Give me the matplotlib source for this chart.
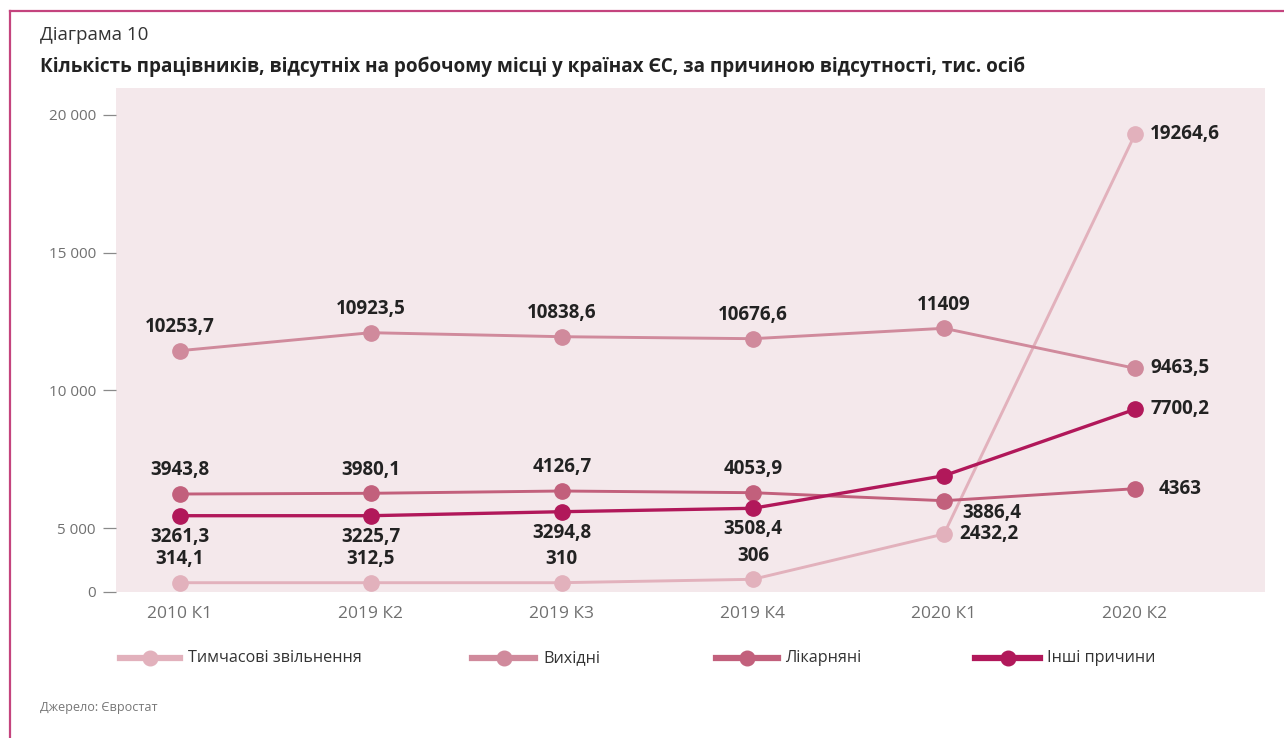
import numpy as np
import matplotlib
matplotlib.use("Agg")
import matplotlib.pyplot as plt
from matplotlib.lines import Line2D

plt.rcParams['font.family'] = ['Open Sans', 'DejaVu Sans']

# ---- data ----
categories = ["2010 К1", "2019 К2", "2019 К3", "2019 К4", "2020 К1", "2020 К2"]
series_names = ["Тимчасові звільнення", "Вихідні", "Лікарняні", "Інші причини"]

# plotted positions (axis units)
tymch_vals = [710, 710, 710, 978, 4550, 19300]
vykh_vals = [11444, 12097, 11952, 11880, 12257, 10806]
likar_vals = [6244, 6270, 6353, 6292, 6001, 6437]
inshi_vals = [5457, 5457, 5602, 5726, 6908, 9318]

# printed data labels
tymch_labels = ["314,1", "312,5", "310", "306", "2432,2", "19264,6"]
vykh_labels = ["10253,7", "10923,5", "10838,6", "10676,6", "11409", "9463,5"]
likar_labels = ["3943,8", "3980,1", "4126,7", "4053,9", "3886,4", "4363"]
inshi_labels = ["3261,3", "3225,7", "3294,8", "3508,4", None, "7700,2"]

y_ticks = [0, 5000, 10000, 15000, 20000]
y_tick_labels = ["0", "5 000", "10 000", "15 000", "20 000"]

# ---- style ----
colors = ["#e2b1bc", "#d08a9c", "#c2607c", "#b1185a"]
widths = [2.1, 2.1, 2.1, 2.4]
place_t = ["above", "above", "above", "above", "right", "right"]
place_v = ["above", "above", "above", "above", "above", "right"]
place_l = ["above", "above", "above", "above", "belowright", "right2"]
place_i = ["below", "below", "below", "below", None, "right"]

W, H = 1284, 738
fig = plt.figure(figsize=(W / 100, H / 100), dpi=100)
ax = fig.add_axes([116 / W, 1 - 591.7 / H, (1265 - 116) / W, (591.7 - 88) / H])
ax.set_facecolor("#f4e8eb")
for s in ax.spines.values():
    s.set_visible(False)

LOW_PX, HIGH_PX = 63.4, 137.8


def fwd(v):
    v = np.asarray(v, dtype=float)
    return np.where(v <= 5000, v * LOW_PX / 5000, LOW_PX + (v - 5000) * HIGH_PX / 5000)


def inv(p):
    p = np.asarray(p, dtype=float)
    return np.where(p <= LOW_PX, p * 5000 / LOW_PX, 5000 + (p - LOW_PX) * 5000 / HIGH_PX)


ax.set_yscale("function", functions=(fwd, inv))
ax.set_ylim(0, 20976)
x = np.arange(len(categories))
ax.set_xlim(-0.333, 5.68)

all_vals = [tymch_vals, vykh_vals, likar_vals, inshi_vals]
all_labels = [tymch_labels, vykh_labels, likar_labels, inshi_labels]
all_place = [place_t, place_v, place_l, place_i]

for vals, col, lw in zip(all_vals, colors, widths):
    ax.plot(x, vals, color=col, lw=lw, marker="o", ms=11, zorder=3,
            solid_capstyle="round")

lab_kw = dict(fontsize=13.5, fontweight="bold", color="#222222", zorder=5)
for vals, labs, places in zip(all_vals, all_labels, all_place):
    for xi, v, lab, pl in zip(x, vals, labs, places):
        if lab is None:
            continue
        if pl == "above":
            ax.annotate(lab, (xi, v), xytext=(0, 17), textcoords="offset points",
                        ha="center", va="center", **lab_kw)
        elif pl == "below":
            ax.annotate(lab, (xi, v), xytext=(0, -15), textcoords="offset points",
                        ha="center", va="center", **lab_kw)
        elif pl == "right":
            ax.annotate(lab, (xi, v), xytext=(11, 0), textcoords="offset points",
                        ha="left", va="center", **lab_kw)
        elif pl == "right2":
            ax.annotate(lab, (xi, v), xytext=(17, 0), textcoords="offset points",
                        ha="left", va="center", **lab_kw)
        elif pl == "belowright":
            ax.annotate(lab, (xi, v), xytext=(13, -9), textcoords="offset points",
                        ha="left", va="center", **lab_kw)

ax.set_yticks(y_ticks)
ax.set_yticklabels(y_tick_labels)
ax.set_xticks(x)
ax.set_xticklabels(categories)
ax.tick_params(axis="y", length=9.5, width=0.9, color="#8a8a8a", pad=5,
               labelsize=11, labelcolor="#707070")
ax.tick_params(axis="x", length=0, pad=10, labelsize=12.5, labelcolor="#707070")
ax.yaxis.set_minor_locator(matplotlib.ticker.NullLocator())

# frame lines (top and left)
fig.add_artist(Line2D([10 / W, 1.0], [1 - 11 / H, 1 - 11 / H], transform=fig.transFigure,
                      color="#c4447e", lw=1.6))
fig.add_artist(Line2D([10 / W, 10 / W], [0, 1 - 11 / H], transform=fig.transFigure,
                      color="#c4447e", lw=1.6))

fig.text(40 / W, 1 - 35 / H, "Діаграма 10", fontsize=13.5, color="#333333",
         ha="left", va="center")
fig.text(40 / W, 1 - 67 / H,
         "Кількість працівників, відсутніх на робочому місці у країнах ЄС, за причиною відсутності, тис. осіб",
         fontsize=13.6, fontweight="bold", color="#222222", ha="left", va="center")
fig.text(40 / W, 1 - 708 / H, "Джерело: Євростат", fontsize=9.1, color="#777777",
         ha="left", va="center")

# legend
leg_y = 1 - 658 / H
leg_items = [(120, 180, 188), (472, 535, 543), (716, 778, 785), (975, 1040, 1047)]
for (x0, x1, xt), name, col in zip(leg_items, series_names, colors):
    fig.add_artist(Line2D([x0 / W, x1 / W], [leg_y, leg_y], transform=fig.transFigure,
                          color=col, lw=4.5))
    fig.add_artist(Line2D([(x0 + x1) / 2 / W], [leg_y], transform=fig.transFigure,
                          color=col, marker="o", ms=10.5, lw=0))
    fig.text(xt / W, leg_y, name, fontsize=11.6, color="#333333", ha="left", va="center")

fig.savefig("out.png", dpi=100)
